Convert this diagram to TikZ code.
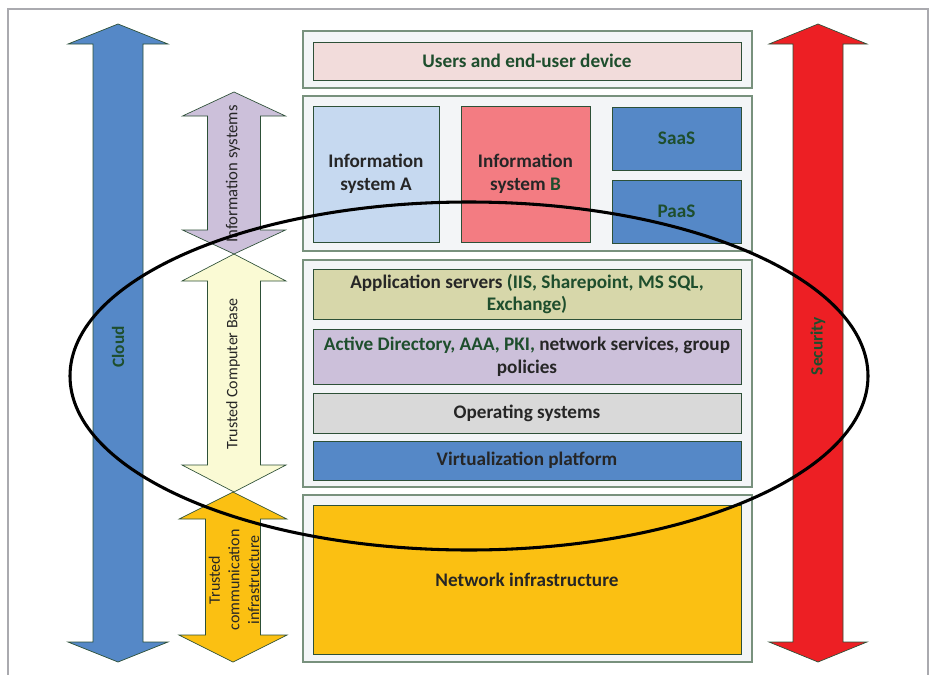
\documentclass[tikz,border=0pt]{standalone}
\usepackage{fontspec}
\setmainfont{Carlito}
\usepackage{xcolor}
\usepackage{tikz}
\definecolor{txtgreen}{RGB}{30,78,45}
\definecolor{txtgray}{RGB}{38,38,38}
\definecolor{edgegreen}{RGB}{45,80,55}
\definecolor{panelgray}{RGB}{243,245,247}
\definecolor{paneledge}{RGB}{120,145,125}
\definecolor{framegray}{RGB}{170,170,175}
\definecolor{cloudblue}{RGB}{85,136,199}
\definecolor{securityred}{RGB}{237,31,36}
\definecolor{lavender}{RGB}{204,192,218}
\definecolor{paleyellow}{RGB}{250,250,212}
\definecolor{amber}{RGB}{251,192,18}
\definecolor{userpink}{RGB}{242,220,219}
\definecolor{isblue}{RGB}{198,217,240}
\definecolor{isred}{RGB}{243,124,130}
\definecolor{olivepale}{RGB}{215,215,170}
\definecolor{osgray}{RGB}{217,217,217}

% vertical double arrow: x, top, bottom, half shaft, half head, head length, colour
\newcommand{\vdarrow}[7]{%
  \filldraw[fill=#7, draw=edgegreen, line width=0.5pt]
    (#1,#2) -- (#1+#5,#2+#6) -- (#1+#4,#2+#6) -- (#1+#4,#3-#6) -- (#1+#5,#3-#6)
    -- (#1,#3) -- (#1-#5,#3-#6) -- (#1-#4,#3-#6) -- (#1-#4,#2+#6) -- (#1-#5,#2+#6) -- cycle;}

\tikzset{
  panel/.style={draw=paneledge, fill=panelgray, line width=0.8pt, inner sep=0pt,
    minimum width=336.75pt},
  layer/.style={draw=edgegreen, line width=0.6pt, inner sep=0pt, align=center,
    text=txtgray, font=\fontsize{14.4}{17}\selectfont\bfseries},
  wide/.style={minimum width=321pt},
  sidelabel/.style={rotate=90, align=center, text=txtgray, font=\fontsize{12}{14.8}\selectfont},
  mainlabel/.style={rotate=90, text=txtgreen, font=\fontsize{13}{15}\selectfont\bfseries}
}

\begin{document}
\begin{tikzpicture}[x=0.75pt, y=-0.75pt]
\useasboundingbox (0,0) rectangle (933,675);
\draw[framegray, line width=1.2pt] (8,690) -- (8,9) -- (928,9) -- (928,690);

% side arrows
\vdarrow{118}{24}{662}{25}{50}{20}{cloudblue}
\vdarrow{818}{24}{662}{25}{49}{20}{securityred}
\node[mainlabel] (cloud) at (118,347) {Cloud};
\node[mainlabel] (security) at (818,346) {Security};

% middle arrows
\vdarrow{234}{92}{254}{26.5}{51.5}{24}{lavender}
\vdarrow{234}{254}{492}{26.5}{52}{27}{paleyellow}
\vdarrow{233}{492}{662}{27.5}{54}{27}{amber}
\node[sidelabel, font=\fontsize{12.5}{15}\selectfont] (infosys) at (233,174) {Information systems};
\node[sidelabel] (tcb) at (233,374) {Trusted Computer Base};
\node[sidelabel] (tci) at (234,580) {Trusted\\communication\\infrastructure};

% panels
\node[panel, minimum height=42.75pt] (userpanel) at (527.5,59.5) {};
\node[panel, minimum height=116.25pt] (apppanel) at (527.5,173.5) {};
\node[panel, minimum height=170.25pt] (tcbpanel) at (527.5,373.5) {};
\node[panel, minimum height=125.25pt] (netpanel) at (527.5,578.5) {};

% layers
\node[layer, wide, minimum height=28.5pt, fill=userpink, text=txtgreen] (users) at (527,61) {Users and end-user device};
\node[layer, minimum width=94.5pt, minimum height=102pt, fill=isblue] (isa) at (376,174) {Information\\system A};
\node[layer, minimum width=96.75pt, minimum height=102pt, fill=isred] (isb) at (525.5,174) {Information\\system \textcolor{txtgreen}{B}};
\node[layer, minimum width=96.75pt, minimum height=47.25pt, fill=cloudblue, text=txtgreen] (saas) at (676.5,138.5) {SaaS};
\node[layer, minimum width=96.75pt, minimum height=47.25pt, fill=cloudblue, text=txtgreen] (paas) at (676.5,211.5) {PaaS};
\node[layer, wide, minimum height=37.5pt, fill=olivepale] (appsrv) at (527,294)
  {Application servers \textcolor{txtgreen}{(IIS, Sharepoint, MS SQL,}\\\textcolor{txtgreen}{Exchange)}};
\node[layer, wide, minimum height=41.25pt, fill=lavender] (ad) at (527,356.5)
  {\textcolor{txtgreen}{Active Directory, AAA, PKI,} network services, group\\policies};
\node[layer, wide, minimum height=30pt, fill=osgray] (os) at (527,413) {Operating systems};
\node[layer, wide, minimum height=29.25pt, fill=cloudblue] (virt) at (527,460.5) {Virtualization platform};
\node[layer, wide, minimum height=111.75pt, fill=amber] (net) at (527,579.5) {Network infrastructure};

% trusted zone
\draw[line width=2.3pt] (469,376) ellipse [x radius=399, y radius=174];
\end{tikzpicture}
\end{document}
